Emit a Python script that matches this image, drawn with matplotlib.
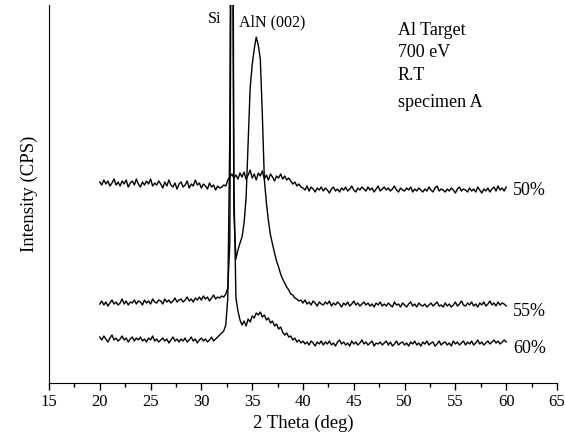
import numpy as np
import matplotlib.pyplot as plt

# 2-theta grid of the scans (deg)
two_theta = np.linspace(20, 60, 201)

# intensities (arbitrary units, offset per specimen)
int_50 = [
    201, 198, 203, 199, 202, 197, 200, 204, 198, 201,
    197, 202, 199, 203, 196, 200, 202, 198, 204, 199,
    196, 201, 198, 202, 199, 204, 197, 200, 198, 202,
    199, 195, 201, 197, 203, 198, 196, 200, 194, 199,
    201, 196, 198, 202, 195, 199, 197, 203, 198, 200,
    195, 199, 197, 194, 200, 196, 198, 193, 197, 195,
    196, 198, 197, 203, 206, 209, 205, 208, 204, 210,
    206, 211, 204, 208, 213, 205, 209, 203, 210, 207,
    212, 204, 208, 203, 209, 206, 202, 207, 205, 209,
    204, 207, 203, 205, 202, 199, 201, 197, 199, 196,
    195, 193, 197, 192, 196, 194, 191, 195, 193, 196,
    192, 195, 193, 190, 194, 196, 192, 194, 191, 195,
    193, 196, 192, 194, 197, 193, 191, 195, 193, 196,
    194, 192, 196, 193, 195, 191, 194, 197, 192, 194,
    196, 193, 195, 192, 194, 197, 193, 191, 195, 193,
    192, 195, 193, 196, 191, 194, 192, 195, 193, 191,
    194, 192, 196, 193, 191, 195, 197, 192, 194, 193,
    191, 194, 192, 195, 193, 190, 194, 196, 192, 194,
    193, 191, 195, 192, 194, 191, 196, 193, 190, 194,
    192, 195, 191, 194, 196, 192, 197, 193, 195, 192,
    196,
]

int_55 = [
    79, 82, 78, 81, 77, 80, 83, 79, 81, 78,
    80, 84, 79, 82, 78, 81, 80, 83, 79, 82,
    81, 78, 83, 80, 82, 79, 84, 81, 80, 83,
    82, 79, 84, 81, 83, 80, 82, 85, 81, 83,
    84, 81, 83, 86, 82, 84, 81, 85, 83, 86,
    83, 87, 84, 86, 82, 85, 88, 84, 86, 85,
    87, 86, 89, 95, 140, 650, 170, 124, 133, 140,
    146, 160, 185, 240, 295, 318, 334, 346, 338, 324,
    268, 203, 180, 162, 148, 139, 130, 122, 116, 109,
    104, 100, 96, 93, 89, 88, 85, 84, 82, 83,
    80, 83, 79, 81, 78, 82, 80, 77, 81, 79,
    78, 81, 79, 82, 77, 80, 78, 81, 79, 76,
    80, 78, 81, 77, 79, 82, 78, 80, 77, 79,
    81, 78, 80, 77, 79, 76, 80, 78, 81, 77,
    79, 77, 80, 78, 76, 81, 78, 79, 76, 80,
    78, 76, 79, 81, 77, 79, 76, 80, 78, 77,
    79, 76, 78, 80, 77, 79, 81, 77, 78, 76,
    80, 77, 79, 76, 78, 81, 77, 79, 82, 78,
    77, 80, 78, 81, 77, 79, 76, 80, 78, 81,
    77, 79, 82, 78, 80, 77, 81, 78, 80, 79,
    77,
]

int_60 = [
    46, 43, 47, 44, 41, 45, 48, 43, 45, 42,
    44, 47, 43, 45, 41, 44, 46, 42, 45, 43,
    46, 42, 44, 41, 45, 43, 47, 42, 44, 41,
    43, 45, 42, 44, 40, 43, 46, 42, 44, 41,
    44, 42, 45, 41, 43, 46, 42, 44, 40, 43,
    45, 42, 44, 41, 43, 46, 42, 44, 46, 48,
    50, 52, 58, 85, 250, 800, 200, 85, 72, 63,
    58, 62, 57, 64, 61, 67, 65, 70, 68, 71,
    66, 68, 63, 65, 60, 62, 57, 59, 54, 56,
    51, 48, 50, 46, 47, 43, 45, 41, 43, 40,
    42, 39, 41, 38, 42, 40, 37, 41, 39, 42,
    38, 41, 39, 42, 38, 40, 37, 41, 43, 39,
    41, 38, 40, 37, 42, 39, 41, 38, 40, 43,
    39, 41, 38, 40, 42, 37, 40, 39, 41, 38,
    40, 42, 38, 41, 37, 39, 42, 38, 40, 41,
    38, 40, 37, 41, 39, 42, 38, 40, 37, 41,
    39, 42, 38, 40, 41, 37, 39, 42, 38, 40,
    41, 38, 40, 37, 42, 39, 41, 38, 40, 42,
    38, 41, 39, 42, 38, 40, 43, 39, 41, 38,
    40, 42, 39, 41, 43, 40, 42, 39, 41, 43,
    41,
]

labels = ["50%", "55%", "60%"]
label_y = [188, 67, 30]
notes = ["Al Target", "700 eV", "R.T", "specimen A"]
notes_y = [348, 326, 303, 276]

plt.rcParams['font.family'] = ['Liberation Serif', 'DejaVu Serif']

fig = plt.figure(figsize=(5.65, 4.45), dpi=100)
ax = fig.add_axes([0.0867, 0.1393, 0.8991, 0.8494])

for series in (int_50, int_55, int_60):
    ax.plot(two_theta, series, color='black', lw=1.0)

for lab, y in zip(labels, label_y):
    ax.text(60.67, y, lab, fontsize=13, ha='left', va='baseline')

ax.text(30.65, 360, "Si", fontsize=11.5, ha='left', va='baseline')
ax.text(33.7, 357, "AlN (002)", fontsize=11.5, ha='left', va='baseline')
for note, y in zip(notes, notes_y):
    ax.text(49.35, y, note, fontsize=13, ha='left', va='baseline')

ax.set_xlim(15, 65)
ax.set_ylim(0, 378)
ax.set_xticks(np.arange(15, 66, 5))
ax.set_xticks(np.arange(17.5, 65, 5), minor=True)
ax.tick_params(axis='x', which='major', length=5, width=1, labelsize=12, pad=3)
ax.tick_params(axis='x', which='minor', length=3, width=1)
ax.set_yticks([])
for side in ('top', 'right'):
    ax.spines[side].set_visible(False)
ax.set_xlabel("2 Theta (deg)", fontsize=13.5, labelpad=3)
ax.set_ylabel("Intensity (CPS)", fontsize=13.5, labelpad=8)

plt.savefig("out.png", dpi=100)
